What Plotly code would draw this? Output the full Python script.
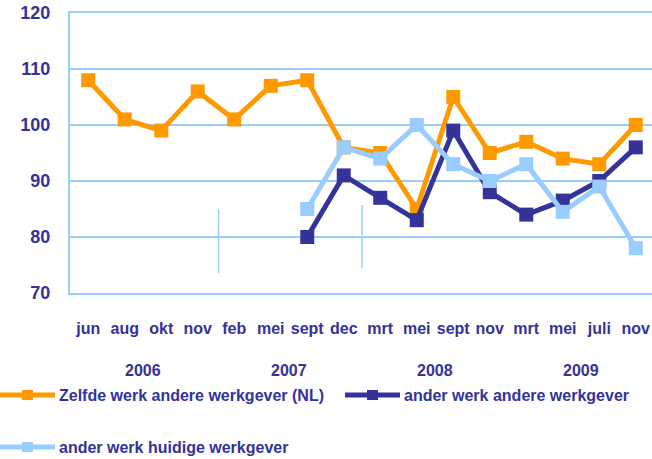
import plotly.graph_objects as go

months = ["jun", "aug", "okt", "nov", "feb", "mei", "sept", "dec",
          "mrt", "mei", "sept", "nov", "mrt", "mei", "juli", "nov"]
years = ["2006", "2007", "2008", "2009"]
year_pos = [1.5, 5.5, 9.5, 13.5]
year_breaks = [3.57, 7.5]

zelfde = [108, 101, 99, 106, 101, 107, 108, 96, 95, 85, 105, 95, 97, 94, 93, 100]
ander_andere = [None, None, None, None, None, None, 80, 91, 87, 83, 99, 88, 84, 86.5, 90, 96]
ander_huidig = [None, None, None, None, None, None, 85, 96, 94, 100, 93, 90, 93, 84.5, 89, 78]

names = ["Zelfde werk andere werkgever (NL)", "ander werk andere werkgever",
         "ander werk huidige werkgever"]

ORANGE = "#FF9900"
DARK = "#333399"
LIGHT = "#99CCFF"
FONT = "Arial, Liberation Sans, sans-serif"

W, H = 652, 459
L, R, T, B = 70, 0, 13, 166
PW, PH = W - L - R, H - T - B


def px(xp):
    return (xp - L) / PW


def py(yp):
    return (H - B - yp) / PH


x = list(range(len(months)))
colors = [ORANGE, DARK, LIGHT]
fig = go.Figure()
for vals, col, nm in zip([zelfde, ander_andere, ander_huidig], colors, names):
    fig.add_trace(go.Scatter(
        x=x, y=vals, name=nm, mode="lines+markers",
        line=dict(color=col, width=5),
        marker=dict(symbol="square", size=14, color=col),
        cliponaxis=False, showlegend=False, connectgaps=False,
    ))

for xb, y0, y1 in [(year_breaks[0], 73.6, 85), (year_breaks[1], 74.5, 85.7)]:
    fig.add_shape(type="line", xref="x", yref="y", x0=xb, x1=xb, y0=y0, y1=y1,
                  line=dict(color=LIGHT, width=1.5), layer="below")

for yr, p in zip(years, year_pos):
    fig.add_annotation(x=p, y=py(370), xref="x", yref="paper", text="<b>%s</b>" % yr,
                       showarrow=False, font=dict(family=FONT, size=16, color=DARK),
                       xanchor="center", yanchor="middle")

# manual legend
leg_items = [(0, 395, 0), (345, 395, 1), (0, 447, 2)]
for x0, yc, i in leg_items:
    col = colors[i]
    fig.add_shape(type="line", xref="paper", yref="paper",
                  x0=px(x0), x1=px(x0 + 55), y0=py(yc), y1=py(yc),
                  line=dict(color=col, width=5))
    fig.add_shape(type="rect", xref="paper", yref="paper",
                  x0=px(x0 + 22), x1=px(x0 + 33), y0=py(yc - 5), y1=py(yc + 5),
                  line=dict(width=0), fillcolor=col)
    fig.add_annotation(x=px(x0 + 57), y=py(yc), xref="paper", yref="paper",
                       text="<b>%s</b>" % names[i], showarrow=False,
                       xanchor="left", yanchor="middle",
                       font=dict(family=FONT, size=16, color=DARK))

fig.update_layout(
    width=W, height=H,
    margin=dict(l=L, r=R, t=T, b=B, autoexpand=False),
    plot_bgcolor="white", paper_bgcolor="white",
    font=dict(family=FONT, color=DARK),
    showlegend=False,
    xaxis=dict(
        range=[-0.5, 15.445], tickmode="array", tickvals=x,
        ticktext=["<b>%s</b>" % m for m in months],
        tickfont=dict(family=FONT, size=16, color=DARK),
        showgrid=False, zeroline=False, showline=True, mirror=True,
        linecolor=LIGHT, linewidth=2, ticks="",
        ticklabelstandoff=20, automargin=False,
    ),
    yaxis=dict(
        range=[70, 120], tickvals=[70, 80, 90, 100, 110, 120],
        ticktext=["<b>%d</b>" % v for v in [70, 80, 90, 100, 110, 120]],
        tickfont=dict(family=FONT, size=18, color=DARK),
        showgrid=True, gridcolor=LIGHT, gridwidth=2,
        zeroline=False, showline=True, linecolor=LIGHT, linewidth=2,
        ticks="", ticklabelstandoff=14, automargin=False,
    ),
)

fig.write_html("out.html", config={"displayModeBar": False},
               post_script="document.body.style.margin='0';")
